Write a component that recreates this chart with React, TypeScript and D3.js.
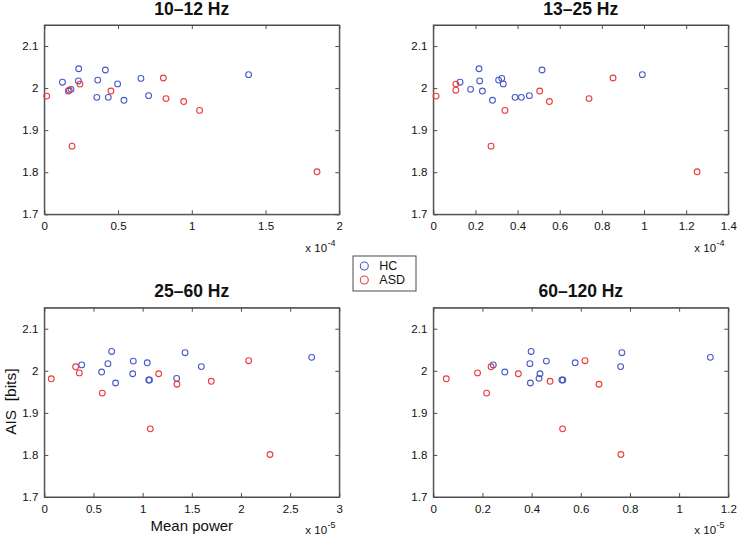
import React, { useEffect, useRef } from "react";
import * as d3 from "d3";

// AIS values per subject (same subjects in every band)
const hcAIS = [2.014, 2.046, 2.017, 1.993, 1.997, 2.019, 2.043, 1.978, 1.978, 2.010, 1.971, 2.023, 1.982, 2.032];
const asdAIS = [1.981, 2.0095, 1.995, 1.862, 1.947, 1.993, 1.968, 1.975, 2.024, 1.801];

// mean power per band (in units of the axis exponent)
const hcPower10 = [0.123, 0.233, 0.231, 0.163, 0.181, 0.362, 0.414, 0.356, 0.434, 0.497, 0.540, 0.655, 0.707, 1.385];
const asdPower10 = [0.016, 0.242, 0.169, 0.188, 1.053, 0.452, 0.945, 0.825, 0.807, 1.849];

const hcPower13 = [0.127, 0.217, 0.220, 0.233, 0.177, 0.310, 0.516, 0.388, 0.418, 0.332, 0.281, 0.325, 0.456, 0.992];
const asdPower13 = [0.013, 0.107, 0.107, 0.274, 0.340, 0.505, 0.551, 0.739, 0.853, 1.252];

const hcPower25 = [0.380, 0.685, 0.647, 0.899, 0.583, 1.047, 1.432, 1.062, 1.070, 1.597, 0.725, 0.905, 1.346, 2.719];
const asdPower25 = [0.071, 0.319, 0.356, 1.078, 0.590, 1.163, 1.349, 1.698, 2.078, 2.295];

const hcPower60 = [0.244, 0.398, 0.393, 0.434, 0.291, 0.577, 0.767, 0.523, 0.527, 0.762, 0.395, 0.460, 0.430, 1.127];
const asdPower60 = [0.053, 0.235, 0.180, 0.526, 0.217, 0.346, 0.674, 0.475, 0.617, 0.763];

const bandTitles = ["10\u201312 Hz", "13\u201325 Hz", "25\u201360 Hz", "60\u2013120 Hz"];
const xMaxes = [2, 1.4, 3, 1.2];
const xSteps = [0.5, 0.2, 0.5, 0.2];
const exponents = ["-4", "-4", "-5", "-5"];
const yTicks = [1.7, 1.8, 1.9, 2, 2.1];
const legendLabels = ["HC", "ASD"];

const HC_COLOR = "#4a5cc4";
const ASD_COLOR = "#ee3b3b";
const AXIS_COLOR = "#4d4d4d";
const FONT = "'Liberation Sans', Arial, Helvetica, sans-serif";

const App: React.FC = () => {
  const svgRef = useRef<SVGSVGElement>(null);

  useEffect(() => {
    if (!svgRef.current) return;
    const svg = d3.select(svgRef.current);
    svg.selectAll("*").remove();

    const width = 737;
    const height = 538;
    svg.attr("width", width).attr("height", height).attr("viewBox", `0 0 ${width} ${height}`);

    const plotW = 295;
    const plotH = 189.3;
    const lefts = [44.3, 433.3];
    const tops = [25, 307.7];

    const hcSets = [hcPower10, hcPower13, hcPower25, hcPower60];
    const asdSets = [asdPower10, asdPower13, asdPower25, asdPower60];

    const fmt = (d: d3.NumberValue) => String(+(+d).toFixed(2));

    bandTitles.forEach((title, i) => {
      const left = lefts[i % 2];
      const top = tops[Math.floor(i / 2)];

      const x = d3.scaleLinear().domain([0, xMaxes[i]]).range([0, plotW]);
      const y = d3.scaleLinear().domain([1.7, 2.15]).range([plotH, 0]);
      const xTicks = d3.range(0, xMaxes[i] + 1e-9, xSteps[i]);

      const g = svg.append("g").attr("transform", `translate(${left},${top})`);

      g.append("rect")
        .attr("width", plotW)
        .attr("height", plotH)
        .attr("fill", "#fff");

      const styleAxis = (sel: d3.Selection<SVGGElement, unknown, null, undefined>) => {
        sel.selectAll("path, line").attr("stroke", AXIS_COLOR);
        sel.selectAll("text")
          .attr("fill", "#111")
          .style("font-size", "11.5px")
          .style("font-family", FONT);
        sel.attr("font-family", null).attr("font-size", null);
      };

      const xb = g.append("g")
        .attr("transform", `translate(0,${plotH})`)
        .call(d3.axisBottom(x).tickValues(xTicks).tickFormat(fmt).tickSizeInner(-4).tickSizeOuter(0).tickPadding(7.5));
      styleAxis(xb);

      const xt = g.append("g")
        .call(d3.axisTop(x).tickValues(xTicks).tickFormat(() => "").tickSizeInner(-4).tickSizeOuter(0));
      styleAxis(xt);

      const yl = g.append("g")
        .call(d3.axisLeft(y).tickValues(yTicks).tickFormat(fmt).tickSizeInner(-4).tickSizeOuter(0).tickPadding(6));
      styleAxis(yl);

      const yr = g.append("g")
        .attr("transform", `translate(${plotW},0)`)
        .call(d3.axisRight(y).tickValues(yTicks).tickFormat(() => "").tickSizeInner(-4).tickSizeOuter(0));
      styleAxis(yr);

      g.append("rect")
        .attr("width", plotW)
        .attr("height", plotH)
        .attr("fill", "none")
        .attr("stroke", AXIS_COLOR)
        .attr("stroke-width", 1);

      g.selectAll(".hc")
        .data(hcSets[i].map((p, k) => ({ p, a: hcAIS[k] })))
        .join("circle")
        .attr("class", "hc")
        .attr("cx", d => x(d.p))
        .attr("cy", d => y(d.a))
        .attr("r", 2.9)
        .attr("fill", "none")
        .attr("stroke", HC_COLOR)
        .attr("stroke-width", 1.1);

      g.selectAll(".asd")
        .data(asdSets[i].map((p, k) => ({ p, a: asdAIS[k] })))
        .join("circle")
        .attr("class", "asd")
        .attr("cx", d => x(d.p))
        .attr("cy", d => y(d.a))
        .attr("r", 2.9)
        .attr("fill", "none")
        .attr("stroke", ASD_COLOR)
        .attr("stroke-width", 1.1);

      g.append("text")
        .attr("x", plotW / 2)
        .attr("y", -10.5)
        .attr("text-anchor", "middle")
        .style("font-family", FONT)
        .style("font-size", "17.5px")
        .style("font-weight", "bold")
        .attr("fill", "#111")
        .text(title);

      const ex = g.append("text")
        .attr("x", plotW - 34)
        .attr("y", plotH + 37.4)
        .style("font-family", FONT)
        .style("font-size", "11.5px")
        .attr("fill", "#111");
      ex.append("tspan").text("x 10");
      ex.append("tspan")
        .attr("dx", 0.5)
        .attr("dy", -6)
        .style("font-size", "9px")
        .text(exponents[i]);

      if (i === 2) {
        g.append("text")
          .attr("x", plotW / 2)
          .attr("y", plotH + 34.5)
          .attr("text-anchor", "middle")
          .style("font-family", FONT)
          .style("font-size", "15px")
          .attr("fill", "#111")
          .text("Mean power");

        g.append("text")
          .attr("transform", `translate(${15.5 - left},${401.7 - top}) rotate(-90)`)
          .attr("text-anchor", "middle")
          .style("font-family", FONT)
          .style("font-size", "15.5px")
          .style("white-space", "pre")
          .attr("fill", "#111")
          .text("AIS  [bits]");
      }
    });

    // legend
    const lg = svg.append("g").attr("transform", "translate(353,256)");
    lg.append("rect")
      .attr("width", 63)
      .attr("height", 35)
      .attr("fill", "#fff")
      .attr("stroke", AXIS_COLOR)
      .attr("stroke-width", 1);
    legendLabels.forEach((label, k) => {
      lg.append("circle")
        .attr("cx", 11.3)
        .attr("cy", 10 + k * 14)
        .attr("r", 4)
        .attr("fill", "none")
        .attr("stroke", k === 0 ? HC_COLOR : ASD_COLOR)
        .attr("stroke-width", 1.1);
      lg.append("text")
        .attr("x", 26.3)
        .attr("y", 14.3 + k * 14)
        .style("font-family", FONT)
        .style("font-size", "12.5px")
        .attr("fill", "#111")
        .text(label);
    });
  }, []);

  return (
    <svg
      ref={svgRef}
      style={{ position: "absolute", left: 0, top: 0, display: "block", background: "#fff" }}
    />
  );
};

export default App;
